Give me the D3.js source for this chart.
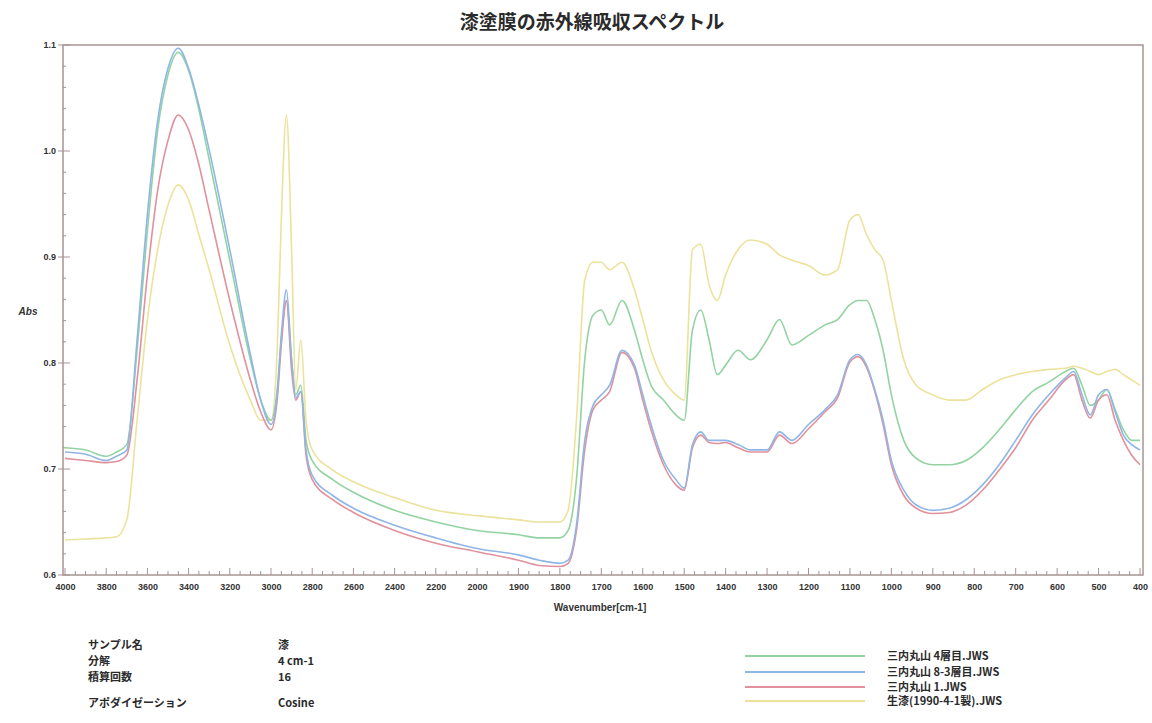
<!DOCTYPE html>
<html>
<head>
<meta charset="utf-8">
<script src="https://cdn.jsdelivr.net/npm/d3@7"></script>
<style>
  body { margin: 0; background: #fff; }
  svg { display: block; }
  text { font-family: "Noto Sans CJK JP", "Noto Sans", sans-serif; fill: #333; }
</style>
</head>
<body>
<svg id="chart" width="1152" height="723"></svg>
<script>
// Wavenumber grid (cm-1) shared by all spectra
const wavenumbers = [4000,3900,3800,3750,3700,3650,3600,3550,3500,3450,3400,3350,3300,3200,3100,
  3050,3000,2970,2950,2925,2900,2880,2855,2830,2800,2700,2600,2400,2200,2000,1900,1850,1800,1780,1760,
  1740,1720,1700,1680,1650,1620,1600,1580,1550,1520,1500,1480,1460,1440,1420,1400,1370,1340,1300,1270,
  1240,1200,1160,1130,1100,1080,1060,1040,1020,1000,970,940,900,860,820,780,740,700,660,620,
  580,560,540,520,500,480,460,440,420,400];

// Absorbance of each sample
const absLayer4 = [0.720,0.718,0.712,0.716,0.723,0.812,0.925,1.020,1.072,1.093,1.076,1.039,0.992,0.897,0.803,
  0.765,0.746,0.775,0.822,0.859,0.803,0.770,0.779,0.727,0.708,0.690,0.678,0.661,0.650,0.642,0.638,0.635,0.635,0.642,0.690,
  0.803,0.845,0.850,0.836,0.859,0.831,0.803,0.779,0.765,0.751,0.746,0.831,0.850,0.822,0.789,0.798,0.812,0.803,0.822,0.841,
  0.817,0.826,0.836,0.841,0.855,0.859,0.859,0.841,0.812,0.770,0.727,0.710,0.704,0.704,0.708,0.720,0.737,0.756,0.773,0.782,
  0.792,0.795,0.779,0.760,0.765,0.775,0.756,0.737,0.727,0.727];

const absLayer83 = [0.716,0.714,0.708,0.712,0.718,0.822,0.940,1.029,1.078,1.097,1.078,1.043,1.001,0.907,0.808,
  0.765,0.742,0.770,0.826,0.869,0.803,0.767,0.773,0.718,0.694,0.675,0.663,0.647,0.635,0.625,0.619,0.614,0.611,0.614,0.647,
  0.727,0.760,0.770,0.779,0.812,0.798,0.770,0.742,0.708,0.690,0.682,0.723,0.735,0.727,0.727,0.727,0.723,0.718,0.718,0.735,
  0.727,0.742,0.756,0.770,0.803,0.808,0.798,0.775,0.746,0.708,0.680,0.666,0.661,0.663,0.671,0.685,0.704,0.727,0.751,0.770,
  0.786,0.792,0.770,0.751,0.770,0.775,0.754,0.732,0.723,0.718];

const absSample1 = [0.710,0.708,0.706,0.707,0.713,0.784,0.883,0.963,1.010,1.034,1.020,0.987,0.944,0.859,0.784,
  0.754,0.737,0.765,0.817,0.859,0.793,0.765,0.773,0.713,0.690,0.671,0.659,0.642,0.630,0.622,0.614,0.609,0.608,0.611,0.642,
  0.718,0.756,0.765,0.773,0.810,0.795,0.765,0.737,0.704,0.685,0.680,0.720,0.732,0.725,0.724,0.725,0.720,0.716,0.716,0.732,
  0.724,0.738,0.754,0.767,0.801,0.806,0.796,0.773,0.742,0.704,0.675,0.663,0.658,0.659,0.666,0.680,0.699,0.720,0.746,0.765,
  0.784,0.789,0.765,0.748,0.765,0.770,0.746,0.727,0.713,0.704];

const absRawLacquer = [0.633,0.634,0.635,0.636,0.652,0.746,0.841,0.907,0.949,0.968,0.954,0.921,0.888,0.817,0.765,
  0.746,0.746,0.812,0.935,1.034,0.907,0.775,0.822,0.746,0.718,0.699,0.688,0.673,0.661,0.656,0.652,0.650,0.650,0.661,0.746,
  0.878,0.895,0.895,0.888,0.895,0.869,0.841,0.812,0.784,0.770,0.765,0.907,0.912,0.874,0.859,0.883,0.907,0.916,0.912,0.902,
  0.897,0.892,0.883,0.888,0.935,0.940,0.921,0.907,0.897,0.859,0.803,0.779,0.770,0.765,0.765,0.775,0.784,0.789,0.792,0.794,
  0.795,0.797,0.795,0.792,0.789,0.792,0.794,0.789,0.784,0.779];

const seriesNames = ["三内丸山 4層目.JWS", "三内丸山 8-3層目.JWS", "三内丸山 1.JWS", "生漆(1990-4-1製).JWS"];
const seriesValues = [absLayer4, absLayer83, absSample1, absRawLacquer];
const seriesColors = ["#93d3a2", "#8fb6e6", "#e0919c", "#ece29c"];

// Axis tick labels
const xMajorTicks = [4000,3800,3600,3400,3200,3000,2800,2600,2400,2200,2000,
  1900,1800,1700,1600,1500,1400,1300,1200,1100,1000,900,800,700,600,500,400];
const yMajorTicks = [0.6, 0.7, 0.8, 0.9, 1.0, 1.1];

// Measurement conditions
const infoLabels = ["サンプル名", "分解", "積算回数", "アポダイゼーション"];
const infoValues = ["漆", "4 cm-1", "16", "Cosine"];

const svg = d3.select("#chart");

// Wavenumber axis: 4000-2000 compressed to half the scale of 2000-400
const x = d3.scaleLinear().domain([4000, 2000, 400]).range([65, 477, 1140]);
const y = d3.scaleLinear().domain([0.6, 1.1]).range([575, 45]);

const frameColor = "#a89494";

// Title
svg.append("text")
  .attr("x", 592).attr("y", 29)
  .attr("text-anchor", "middle")
  .style("font-size", "19px").style("font-weight", "bold")
  .style("fill", "#2a2a2a")
  .text("漆塗膜の赤外線吸収スペクトル");

// Plot frame
svg.append("rect")
  .attr("x", 63).attr("y", 45)
  .attr("width", 1143 - 63).attr("height", 575 - 45)
  .attr("fill", "none").attr("stroke", frameColor).attr("stroke-width", 1.5);

// X axis ticks and labels
const xMinor = d3.range(4000, 2000, -50).concat(d3.range(2000, 399, -25));
const xAxis = d3.axisBottom(x).tickValues(xMajorTicks).tickSize(0).tickPadding(9)
  .tickFormat(d3.format("d"));
const gx = svg.append("g").attr("transform", "translate(0,575)").call(xAxis);
gx.select(".domain").remove();
gx.selectAll("text").style("font-size", "9px").style("font-weight", "bold")
  .style("font-family", "'Liberation Sans', Arial, sans-serif").style("fill", "#333");
svg.append("g").selectAll("line").data(xMinor).join("line")
  .attr("x1", d => x(d)).attr("x2", d => x(d))
  .attr("y1", 575).attr("y2", d => xMajorTicks.includes(d) ? 568 : 571)
  .attr("stroke", frameColor).attr("stroke-width", 1);

// Y axis ticks and labels
const yAxis = d3.axisLeft(y).tickValues(yMajorTicks).tickSize(0).tickPadding(7)
  .tickFormat(d3.format(".1f"));
const gy = svg.append("g").attr("transform", "translate(63,0)").call(yAxis);
gy.select(".domain").remove();
gy.selectAll("text").style("font-size", "9px").style("font-weight", "bold")
  .style("font-family", "'Liberation Sans', Arial, sans-serif").style("fill", "#333");
const yMinor = d3.range(0.6, 1.1001, 0.02);
svg.append("g").selectAll("line").data(yMinor).join("line")
  .attr("y1", d => y(d)).attr("y2", d => y(d))
  .attr("x1", d => Math.abs(Math.round(d * 10) - d * 10) < 1e-6 ? 58 : 63)
  .attr("x2", d => Math.abs(Math.round(d * 10) - d * 10) < 1e-6 ? 70 : 66)
  .attr("stroke", frameColor).attr("stroke-width", 1);

// Axis titles
svg.append("text")
  .attr("x", 600).attr("y", 611)
  .attr("text-anchor", "middle")
  .style("font-size", "10px").style("font-weight", "bold")
  .style("font-family", "'Liberation Sans', Arial, sans-serif")
  .text("Wavenumber[cm-1]");
svg.append("text")
  .attr("x", 28).attr("y", 315)
  .attr("text-anchor", "middle")
  .style("font-size", "10px").style("font-weight", "bold").style("font-style", "italic")
  .style("font-family", "'Liberation Sans', Arial, sans-serif")
  .text("Abs");

// Spectra
const line = d3.line()
  .x(d => x(d[0]))
  .y(d => y(d[1]))
  .curve(d3.curveMonotoneX);

const drawOrder = [3, 0, 2, 1];
svg.append("g").selectAll("path").data(drawOrder).join("path")
  .attr("d", i => line(wavenumbers.map((w, k) => [w, seriesValues[i][k]])))
  .attr("fill", "none")
  .attr("stroke", i => seriesColors[i])
  .attr("stroke-width", 1.6)
  .attr("stroke-linejoin", "round");

// Measurement conditions block
const info = svg.append("g");
const infoY = [645, 661, 677, 703];
info.selectAll("text.lab").data(infoLabels).join("text")
  .attr("class", "lab")
  .attr("x", 88).attr("y", (d, i) => infoY[i] + 4)
  .style("font-size", "11px").style("font-weight", "bold").style("fill", "#2a2a2a")
  .text(d => d);
info.selectAll("text.val").data(infoValues).join("text")
  .attr("class", "val")
  .attr("x", 278).attr("y", (d, i) => infoY[i] + 4)
  .style("font-size", "11px").style("font-weight", "bold").style("fill", "#2a2a2a")
  .text(d => d);

// Legend
const legendY = [656, 672, 687, 701];
const legend = svg.append("g");
legend.selectAll("line").data(seriesNames).join("line")
  .attr("x1", 745).attr("x2", 865)
  .attr("y1", (d, i) => legendY[i]).attr("y2", (d, i) => legendY[i])
  .attr("stroke", (d, i) => seriesColors[i]).attr("stroke-width", 2);
legend.selectAll("text").data(seriesNames).join("text")
  .attr("x", 887).attr("y", (d, i) => legendY[i] + 4)
  .style("font-size", "11px").style("font-weight", "bold").style("fill", "#2a2a2a")
  .text(d => d);
</script>
</body>
</html>
